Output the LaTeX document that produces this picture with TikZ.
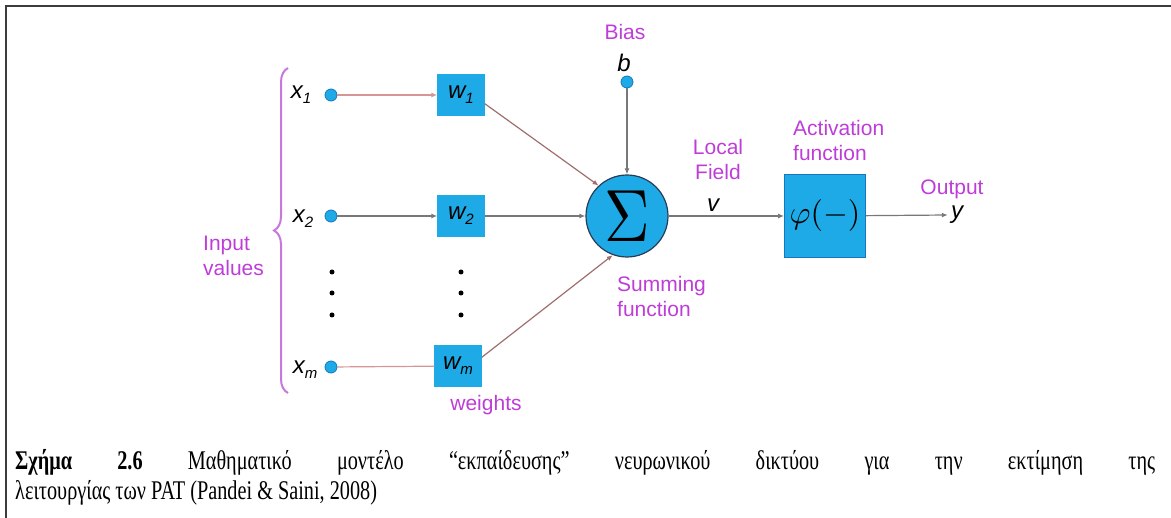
\documentclass[tikz,border=0pt]{standalone}
\usepackage{fontspec}
\setmainfont{Liberation Sans}
\newfontfamily\capfont[FakeStretch=0.75]{Liberation Serif}
\usepackage{color}
\usetikzlibrary{arrows.meta,decorations.pathreplacing}

\definecolor{lblpurple}{RGB}{190,60,215}
\definecolor{bracepurple}{RGB}{200,120,220}
\definecolor{boxblue}{RGB}{30,170,230}
\definecolor{dotblue}{RGB}{20,120,190}
\definecolor{sumedge}{RGB}{40,60,85}
\definecolor{linegray}{RGB}{120,120,120}
\definecolor{linepink}{RGB}{215,150,150}
\definecolor{linebrown}{RGB}{160,110,110}
\definecolor{framegray}{RGB}{60,60,60}

\newcommand{\invar}[2]{{\itshape #1}\raisebox{-5pt}{\fontsize{15}{15}\selectfont\itshape #2}}

\begin{document}
\begin{tikzpicture}[%
      x=1pt, y=-1pt,
      >={Latex[length=6pt,width=5pt]},
      lbl/.style={text=lblpurple, font=\fontsize{21}{25}\selectfont, inner sep=0pt},
      var/.style={font=\fontsize{24}{24}\selectfont, inner sep=0pt},
      inpt/.style={circle, fill=boxblue, draw=dotblue, line width=0.8pt, minimum size=12pt, inner sep=0pt},
      wbox/.style={rectangle, fill=boxblue, draw=boxblue, minimum width=47pt, minimum height=41pt, inner sep=0pt, font=\fontsize{24}{24}\selectfont},
      vdot/.style={circle, fill=black, minimum size=5pt, inner sep=0pt},
      ]
      \useasboundingbox (0,0) rectangle (1171,518);
      \draw [color=framegray, line width=1.5pt] (1171,6) -- (6,6) -- (6,518);

      \draw [color=bracepurple, line width=2pt, decorate,
             decoration={brace, amplitude=14pt}] (288,393) -- (288,68);
      \node [lbl, align=left, anchor=west] (inval) at (203,256) {Input\\values};

      \node [var] (x1) at (301,95) {\invar{x}{1}};
      \node [var] (x2) at (303,219) {\invar{x}{2}};
      \node [var] (xm) at (305,370) {\invar{x}{m}};
      \node [inpt] (cx1) at (331,95) {};
      \node [inpt] (cx2) at (331,216) {};
      \node [inpt] (cxm) at (331,367) {};

      \node [wbox] (w1) at (461,95) {\invar{w}{1}};
      \node [wbox] (w2) at (461,216) {\invar{w}{2}};
      \node [wbox] (wm) at (458,366) {\invar{w}{m}};
      \node [lbl] (wlbl) at (486,405) {weights};

      \node [vdot] (d1) at (332,272) {};
      \node [vdot] (d2) at (332,293) {};
      \node [vdot] (d3) at (332,315) {};
      \node [vdot] (e1) at (461,272) {};
      \node [vdot] (e2) at (461,293) {};
      \node [vdot] (e3) at (461,315) {};

      \node [circle, fill=boxblue, draw=sumedge, line width=1.2pt, minimum size=82pt, inner sep=0pt]
            (sum) at (627,216) {\raisebox{-4pt}{\scalebox{6.3}[7.4]{$\Sigma$}}};
      \node [lbl, align=left, anchor=west] (sumlbl) at (617,296) {Summing\\function};

      \node [lbl] (bias) at (625,32) {Bias};
      \node [var] (b) at (624,63) {\itshape b};
      \node [inpt] (cb) at (627,82) {};

      \node [lbl, align=center] (lfield) at (718,159) {Local\\Field};
      \node [var] (v) at (713,205) {\itshape v};

      \node [rectangle, fill=boxblue, draw=dotblue, line width=0.8pt, minimum width=81pt, minimum height=83pt,
             inner sep=0pt] (act) at (825,216) {\scalebox{3.2}{$\varphi(-)$}};
      \node [lbl, align=left, anchor=west] (actlbl) at (793,140) {Activation\\function};

      \node [lbl] (outlbl) at (952,189) {Output};
      \node [var] (y) at (957,215) {\itshape y};

      \draw [color=linepink, line width=1.2pt, ->] (cx1) -- (w1);
      \draw [color=linegray, line width=1.2pt, ->] (cx2) -- (w2);
      \draw [color=linepink, line width=1.2pt] (cxm) -- (wm);
      \draw [color=linebrown, line width=1.2pt, ->] (w1.-20) -- (sum.133);
      \draw [color=linegray, line width=1.2pt, ->] (w2) -- (sum);
      \draw [color=linebrown, line width=1.2pt, ->] (wm.20) -- (sum.250);
      \draw [color=linegray, line width=1.2pt, ->] (cb) -- (sum);
      \draw [color=linegray, line width=1.2pt, ->] (sum) -- (act);
      \draw [color=linegray, line width=1.2pt, ->] (act) -- ([xshift=-3pt]y.west);

      \node [anchor=base west, inner sep=0pt] (cap1) at (15,470)
            {\capfont\fontsize{27}{30}\selectfont\makebox[1140pt][s]{\textbf{Σχήμα 2.6} Μαθηματικό μοντέλο “εκπαίδευσης” νευρωνικού δικτύου για την εκτίμηση της}};
      \node [anchor=base west, inner sep=0pt] (cap2) at (15,500)
            {\capfont\fontsize{27}{30}\selectfont λειτουργίας των PAT (Pandei \& Saini, 2008)};
      \end{tikzpicture}
\end{document}
